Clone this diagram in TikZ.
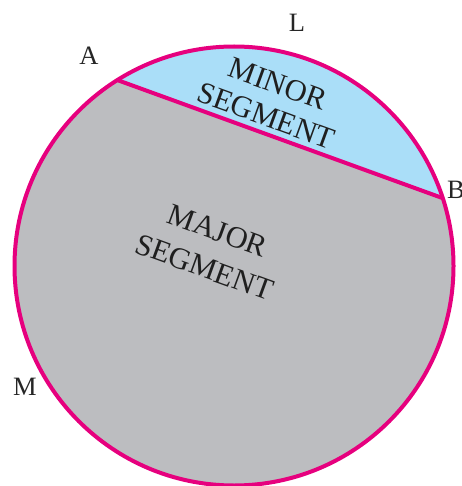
\documentclass[tikz,border=0pt]{standalone}
\usepackage{fontspec}
\setmainfont{Liberation Serif}
\usetikzlibrary{calc}
\definecolor{rim}{RGB}{230,0,126}
\definecolor{minorfill}{RGB}{170,222,248}
\definecolor{majorfill}{RGB}{188,189,192}
\begin{document}
\begin{tikzpicture}[x=1pt,y=-1pt,
  rimline/.style={draw=rim,line width=4pt},
  ptlabel/.style={font=\fontsize{26.5}{26.5}\selectfont,text=black!85,inner sep=0pt},
  segtext/.style={font=\fontsize{30.5}{#1}\selectfont,text=black!88,align=center,rotate=-20,inner sep=0pt}]
\useasboundingbox (0,0) rectangle (461,486);
\coordinate (O) at (234,266);
\def\R{219.5}
\coordinate (A) at ($(O)+(237.9:\R)$);
\coordinate (B) at ($(O)+(-18:\R)$);
\fill[majorfill] (B) arc[start angle=-18,end angle=237.9,radius=\R] -- cycle;
\fill[minorfill] (A) arc[start angle=237.9,end angle=342,radius=\R] -- cycle;
\draw[rimline] (O) circle[radius=\R];
\draw[rimline] (A) -- (B);
\node[segtext=34] (minor) at (272,100) {MINOR\\SEGMENT};
\node[segtext=39] (major) at (211,249) {MAJOR\\SEGMENT};
\node[ptlabel] (lA) at (89,56) {A};
\node[ptlabel] (lL) at (297,23) {L};
\node[ptlabel] (lB) at (456,190) {B};
\node[ptlabel] (lM) at (25,387) {M};
\end{tikzpicture}
\end{document}
